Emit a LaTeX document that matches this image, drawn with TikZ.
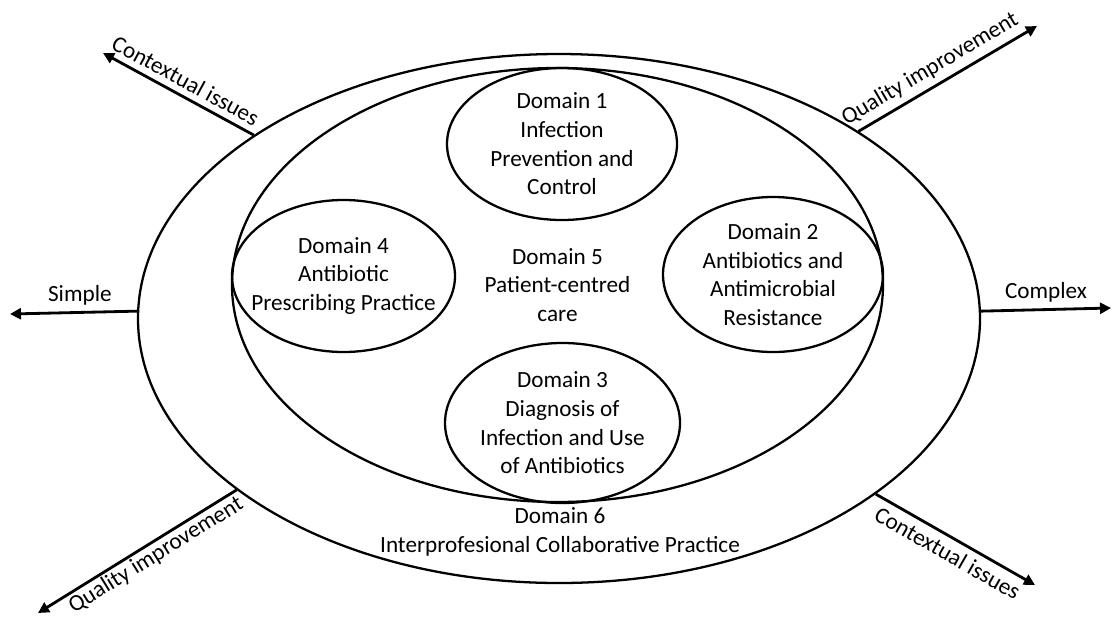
\documentclass[tikz,border=0pt]{standalone}
\usepackage{fontspec}
\setmainfont{Carlito}
\usetikzlibrary{shapes.geometric, arrows.meta, positioning}

\begin{document}
\begin{tikzpicture}[
  every node/.style={font=\fontsize{13.2}{16.3}\selectfont},
  ring/.style={draw, ellipse, line width=1.3pt, inner xsep=-1cm, inner ysep=-0.6cm, align=center},
  pull/.style={-{Triangle[length=0.22cm, width=0.22cm]}, line width=1.6pt}
]
\useasboundingbox (0,0) rectangle (22.26,-12.32);

% Ellipses
\node[ring, minimum width=16.84cm, minimum height=10.58cm] (dom6) at (11.18,-6.37) {};
\node[ring, minimum width=13.02cm, minimum height=8.68cm] (dom5) at (11.15,-5.70)
  {Domain 5\\Patient-centred\\care};
\node[ring, minimum width=4.6cm, minimum height=3.04cm] (dom1) at (11.24,-2.88)
  {Domain 1\\Infection\\Prevention and\\Control};
\node[ring, minimum width=4.4cm, minimum height=3.1cm] (dom2) at (15.46,-5.49)
  {Domain 2\\Antibiotics and\\Antimicrobial\\Resistance};
\node[ring, minimum width=4.7cm, minimum height=3.2cm] (dom3) at (11.25,-8.46)
  {Domain 3\\Diagnosis of\\Infection and Use\\of Antibiotics};
\node[ring, minimum width=4.46cm, minimum height=3.04cm] (dom4) at (6.87,-5.52)
  {Domain 4\\Antibiotic\\Prescribing Practice};
\node[align=center] (dom6text) at (11.2,-10.64)
  {Domain 6\\Interprofesional Collaborative Practice};

% Arrow ends
\coordinate (simple) at (0.2,-6.28);
\coordinate (complex) at (22.22,-6.16);
\coordinate (ctxtl) at (2.06,-1.06);
\coordinate (qualtr) at (20.74,-0.52);
\coordinate (qualbl) at (0.76,-12.26);
\coordinate (ctxbr) at (20.70,-11.70);

% Arrows
\draw[pull] (dom6.179.1) -- (simple) node[pos=0.45, above] {Simple};
\draw[pull] (dom6.1.4) -- (complex) node[midway, above] {Complex};
\draw[pull] (dom6.149.6) -- (ctxtl) node[midway, sloped, above] {Contextual issues};
\draw[pull] (dom6.32.2) -- (qualtr) node[pos=0.45, sloped, above] {Quality improvement};
\draw[pull] (dom6.208.7) -- (qualbl) node[pos=0.44, sloped, below, inner sep=1pt] {Quality improvement};
\draw[pull] (dom6.331.2) -- (ctxbr) node[midway, sloped, below] {Contextual issues};
\end{tikzpicture}
\end{document}
